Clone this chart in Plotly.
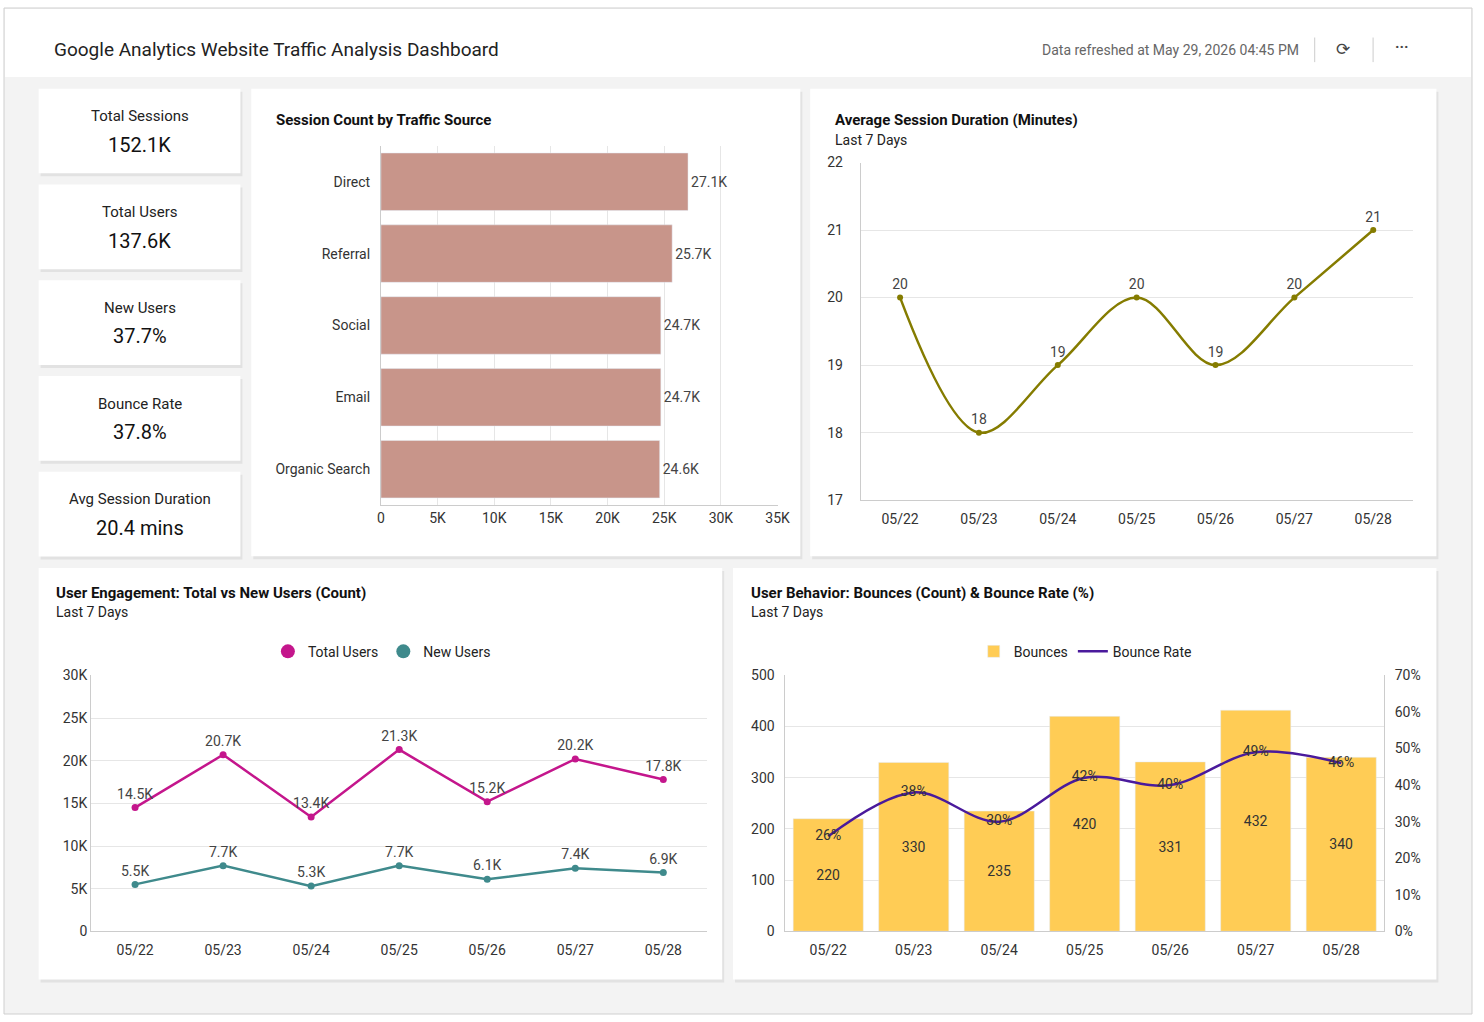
import plotly.graph_objs as go

W, H = 1484, 1022

kpi_names = ['Total Sessions', 'Total Users', 'New Users', 'Bounce Rate', 'Avg Session Duration']
kpi_values = ['152.1K', '137.6K', '37.7%', '37.8%', '20.4 mins']

sources = ['Direct', 'Referral', 'Social', 'Email', 'Organic Search']
sessions = [27100, 25700, 24700, 24700, 24600]
session_labels = ['27.1K', '25.7K', '24.7K', '24.7K', '24.6K']

days = ['05/22', '05/23', '05/24', '05/25', '05/26', '05/27', '05/28']
avg_duration = [20, 18, 19, 20, 19, 20, 21]

total_users = [14500, 20700, 13400, 21300, 15200, 20200, 17800]
total_labels = ['14.5K', '20.7K', '13.4K', '21.3K', '15.2K', '20.2K', '17.8K']
new_users = [5500, 7700, 5300, 7700, 6100, 7400, 6900]
new_labels = ['5.5K', '7.7K', '5.3K', '7.7K', '6.1K', '7.4K', '6.9K']

bounces = [220, 330, 235, 420, 331, 432, 340]
bounce_rate = [26, 38, 30, 42, 40, 49, 46]


def px(x):
    return x / W


def py(y):
    return 1 - y / H


def dom_x(a, b):
    return [px(a), px(b)]


def dom_y(top, bottom):
    return [py(bottom), py(top)]


FONT = 'Roboto'
fig = go.Figure()

# bar chart: sessions by source
fig.add_trace(go.Bar(y=sources, x=sessions, orientation='h', text=session_labels,
                     textposition='outside', marker_color='#c8958a', width=0.8,
                     textfont=dict(size=14, color='#444'), cliponaxis=False,
                     xaxis='x', yaxis='y', showlegend=False))

# avg session duration
fig.add_trace(go.Scatter(x=days, y=avg_duration, mode='lines+markers+text',
                         text=[str(v) for v in avg_duration], textposition='top center',
                         line=dict(color='#857c00', width=2.5, shape='spline'),
                         marker=dict(size=6, color='#857c00'),
                         textfont=dict(size=14, color='#444'), cliponaxis=False,
                         xaxis='x2', yaxis='y2', showlegend=False))

# users
fig.add_trace(go.Scatter(x=days, y=total_users, mode='lines+markers+text', name='Total Users',
                         text=total_labels, textposition='top center',
                         line=dict(color='#c4168c', width=2.5), marker=dict(size=7),
                         textfont=dict(size=14, color='#444'), cliponaxis=False,
                         xaxis='x3', yaxis='y3', showlegend=False))
fig.add_trace(go.Scatter(x=days, y=new_users, mode='lines+markers+text', name='New Users',
                         text=new_labels, textposition='top center',
                         line=dict(color='#3f8a8c', width=2.5), marker=dict(size=7),
                         textfont=dict(size=14, color='#444'), cliponaxis=False,
                         xaxis='x3', yaxis='y3', showlegend=False))
# legend entries shown as dots only
for name, color in [('Total Users', '#c4168c'), ('New Users', '#3f8a8c')]:
    fig.add_trace(go.Scatter(x=[None], y=[None], mode='markers', name=name,
                             marker=dict(size=14, color=color), xaxis='x3', yaxis='y3', legend='legend'))

# bounces
fig.add_trace(go.Bar(x=days, y=bounces, name='Bounces', text=bounces, textposition='inside',
                     insidetextanchor='middle', marker_color='#ffcc55', width=0.82,
                     textfont=dict(size=14, color='#333'),
                     xaxis='x4', yaxis='y4', legend='legend2'))
fig.add_trace(go.Scatter(x=days, y=bounce_rate, mode='lines+text', name='Bounce Rate',
                         text=[f'{v}%' for v in bounce_rate], textposition='middle center',
                         line=dict(color='#4a1a9c', width=2.5, shape='spline'),
                         textfont=dict(size=14, color='#333'), cliponaxis=False,
                         xaxis='x4', yaxis='y5', legend='legend2'))

axis_font = dict(size=14, color='#333')
grid = '#e6e6e6'

shapes = []
# header and cards
shapes.append(dict(type='rect', xref='paper', yref='paper', x0=0, x1=1, y0=0, y1=1,
                   line=dict(color='#cfcfcf', width=1), fillcolor='#f3f3f3', layer='below'))
shapes.append(dict(type='rect', xref='paper', yref='paper', x0=px(1), x1=px(1483), y0=py(70), y1=py(1),
                   line=dict(width=0), fillcolor='white', layer='below'))
cards = [(250, 82, 805, 557), (815, 82, 1448, 557), (35, 569, 726, 987), (737, 569, 1448, 987)]
for i in range(5):
    top = 82 + i * 97.3
    cards.append((35, top, 239, top + 86))
for (a, t, b, btm) in cards:
    shapes.append(dict(type='rect', xref='paper', yref='paper', x0=px(a + 2), x1=px(b + 2),
                       y0=py(btm + 3), y1=py(t + 3), line=dict(width=0), fillcolor='#e2e2e2', layer='below'))
    shapes.append(dict(type='rect', xref='paper', yref='paper', x0=px(a), x1=px(b),
                       y0=py(btm), y1=py(t), line=dict(width=0), fillcolor='white', layer='below'))
for xline in (1325, 1384):
    shapes.append(dict(type='line', xref='paper', yref='paper', x0=px(xline), x1=px(xline),
                       y0=py(30), y1=py(55), line=dict(color='#cccccc', width=1)))

annotations = []


def txt(x, y, s, size=14, color='#222', bold=False, anchor='left'):
    annotations.append(dict(xref='paper', yref='paper', x=px(x), y=py(y), text=f'<b>{s}</b>' if bold else s,
                            showarrow=False, xanchor=anchor, yanchor='middle',
                            font=dict(size=size, color=color, family=FONT)))


txt(49, 42, 'Google Analytics Website Traffic Analysis Dashboard', 19, '#222')
txt(1311, 43, 'Data refreshed at May 29, 2026 04:45 PM', 14, '#666', anchor='right')
txt(1354, 42, '⟳', 17, '#444', anchor='center')
txt(1413, 40, '<b>···</b>', 15, '#444', anchor='center')
for i, (n, v) in enumerate(zip(kpi_names, kpi_values)):
    top = 82 + i * 97.3
    txt(137, top + 28, n, 15, '#222', anchor='center')
    txt(137, top + 57, v, 20, '#111', anchor='center')
txt(273, 114, 'Session Count by Traffic Source', 15, '#111', True)
txt(838, 114, 'Average Session Duration (Minutes)', 15, '#111', True)
txt(838, 134, 'Last 7 Days', 14, '#222')
txt(51, 594, 'User Engagement: Total vs New Users (Count)', 15, '#111', True)
txt(51, 614, 'Last 7 Days', 14, '#222')
txt(753, 594, 'User Behavior: Bounces (Count) & Bounce Rate (%)', 15, '#111', True)
txt(753, 614, 'Last 7 Days', 14, '#222')

fig.update_layout(
    width=W, height=H, margin=dict(l=0, r=0, t=0, b=0),
    paper_bgcolor='white', plot_bgcolor='white', font=dict(family=FONT, size=14, color='#333'),
    shapes=shapes, annotations=annotations, bargap=0.2,
    xaxis=dict(domain=dom_x(381, 782), range=[0, 35000], tickvals=[0, 5000, 10000, 15000, 20000, 25000, 30000, 35000],
               ticktext=['0', '5K', '10K', '15K', '20K', '25K', '30K', '35K'], showgrid=True, gridcolor=grid,
               tickfont=axis_font, showline=True, linecolor='#ccc', zeroline=False),
    yaxis=dict(domain=dom_y(140, 505), autorange='reversed', tickfont=axis_font, showline=True,
               linecolor='#ccc', ticksuffix='  ', anchor='x'),
    xaxis2=dict(domain=dom_x(866, 1424), anchor='y2', tickfont=axis_font, showline=True, linecolor='#ccc',
                showgrid=False, range=[-0.5, 6.5], ticks='outside', tickcolor='white', ticklen=6),
    yaxis2=dict(domain=dom_y(157, 500), anchor='x2', range=[17, 22], dtick=1, gridcolor=grid,
                tickfont=axis_font, showline=True, linecolor='#ccc', ticksuffix='    ', zeroline=False),
    xaxis3=dict(domain=dom_x(88, 711), anchor='y3', tickfont=axis_font, showline=True, linecolor='#ccc',
                showgrid=False, range=[-0.5, 6.5], ticks='outside', tickcolor='white', ticklen=6),
    yaxis3=dict(domain=dom_y(678, 938), anchor='x3', range=[0, 30000], dtick=5000, gridcolor=grid,
                tickvals=[0, 5000, 10000, 15000, 20000, 25000, 30000],
                ticktext=['0', '5K', '10K', '15K', '20K', '25K', '30K'],
                tickfont=axis_font, showline=True, linecolor='#ccc', ticksuffix='  ', zeroline=False),
    xaxis4=dict(domain=dom_x(790, 1395), anchor='y4', tickfont=axis_font, showline=True, linecolor='#ccc',
                showgrid=False, ticks='outside', tickcolor='white', ticklen=6),
    yaxis4=dict(domain=dom_y(678, 938), anchor='x4', range=[0, 500], dtick=100, gridcolor=grid,
                tickfont=axis_font, showline=True, linecolor='#ccc', ticksuffix='  ', zeroline=False),
    yaxis5=dict(domain=dom_y(678, 938), anchor='x4', overlaying='y4', side='right', range=[0, 70],
                dtick=10, ticksuffix='%', showgrid=False, tickfont=axis_font, showline=True,
                linecolor='#ccc', tickprefix='  ', zeroline=False),
    legend=dict(orientation='h', x=px(382), y=py(654), xanchor='center', yanchor='middle',
                font=dict(size=14, color='#222'), itemwidth=30, bgcolor='rgba(0,0,0,0)'),
    legend2=dict(orientation='h', x=px(1093), y=py(654), xanchor='center', yanchor='middle',
                 font=dict(size=14, color='#222'), itemwidth=30, bgcolor='rgba(0,0,0,0)'),
)

fig.write_html('out.html', config={'displayModeBar': False},
               post_script="document.documentElement.style.overflow='hidden';"
                           "document.body.style.margin='0';document.body.style.padding='0';")
